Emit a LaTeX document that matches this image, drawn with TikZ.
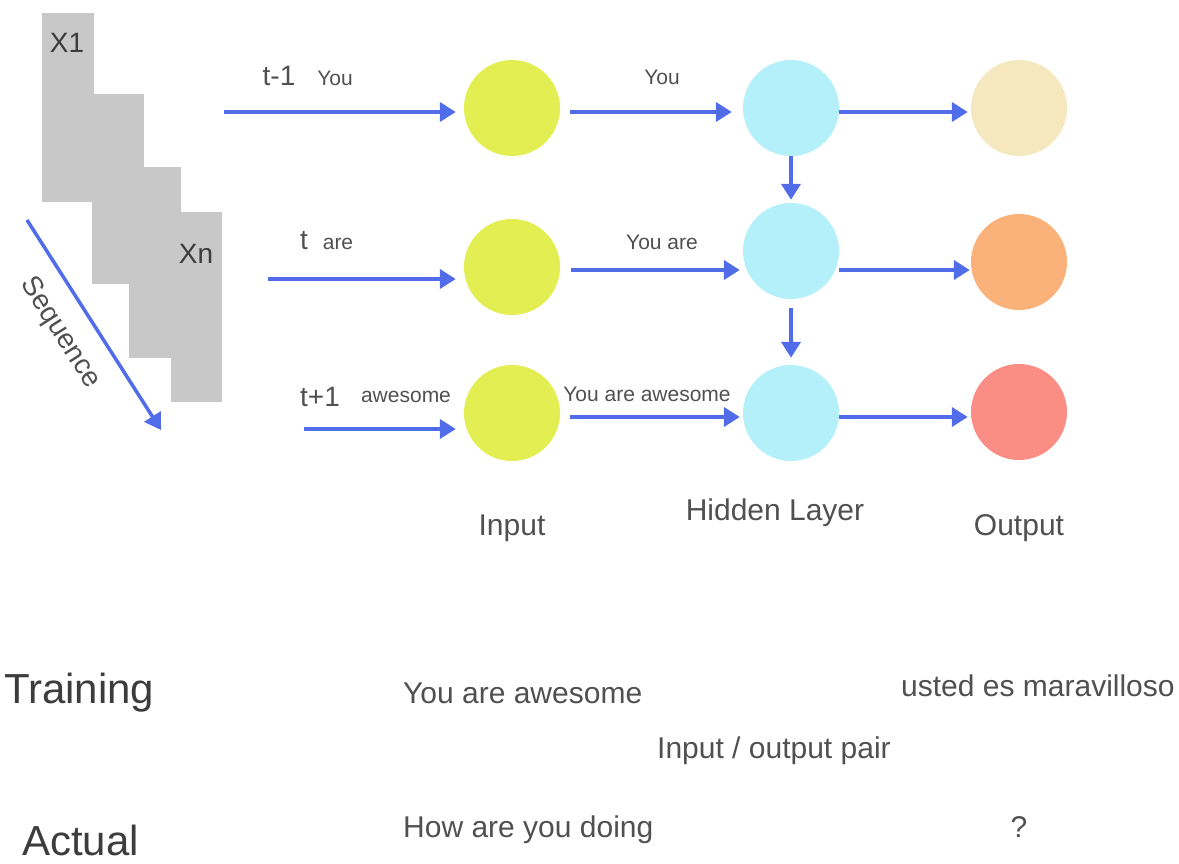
\documentclass[tikz,border=0pt]{standalone}
\usepackage{fontspec}
\setmainfont{Liberation Sans}
\usetikzlibrary{arrows.meta}

\definecolor{flowblue}{RGB}{80,108,232}
\definecolor{inyellow}{RGB}{226,238,82}
\definecolor{hidcyan}{RGB}{180,240,250}
\definecolor{outcream}{RGB}{245,232,190}
\definecolor{outorange}{RGB}{250,178,122}
\definecolor{outred}{RGB}{250,142,132}
\definecolor{seqgray}{RGB}{200,200,200}
\definecolor{txtgray}{RGB}{80,80,80}
\definecolor{txtdark}{RGB}{60,60,60}

\newcommand{\bigtxt}{\fontsize{42}{48}\selectfont}
\newcommand{\midtxt}{\fontsize{30}{36}\selectfont}
\newcommand{\steptxt}{\fontsize{28}{34}\selectfont}
\newcommand{\wordtxt}{\fontsize{21}{26}\selectfont}

\tikzset{
  neuron/.style={circle, minimum size=96pt, inner sep=0pt},
  flow/.style={line width=4.5pt, flowblue, -{Triangle[length=16pt,width=19pt]}},
  lbl/.style={anchor=base, inner sep=0pt, text=txtgray},
}

\begin{document}
\begin{tikzpicture}[x=1pt, y=-1pt]
  \useasboundingbox (0,0) rectangle (1179,864);

  % sequence of inputs
  \foreach \xa/\ya/\xb/\yb in {42/13/94/202, 92/94/144/284, 129/167/181/358, 171/212/222/402}
    \fill[seqgray] (\xa,\ya) rectangle (\xb,\yb);
  \node[lbl, font=\steptxt, text=txtdark] (x1) at (67,53) {X1};
  \node[lbl, font=\steptxt, text=txtdark] (xn) at (196,263) {Xn};
  \coordinate (seqa) at (27,220);
  \coordinate (seqb) at (161,430);
  \draw[flow, line width=3.5pt] (seqa) -- (seqb);
  \node[font=\steptxt, text=txtgray, rotate=-57.5, inner sep=0pt] (seq) at (60,333) {Sequence};

  % layers
  \node[neuron, fill=inyellow] (i1) at (512,108) {};
  \node[neuron, fill=inyellow] (i2) at (512,267) {};
  \node[neuron, fill=inyellow] (i3) at (512,413) {};
  \node[neuron, fill=hidcyan] (h1) at (791,108) {};
  \node[neuron, fill=hidcyan] (h2) at (791,251) {};
  \node[neuron, fill=hidcyan] (h3) at (791,413) {};
  \node[neuron, fill=outcream] (o1) at (1019,108) {};
  \node[neuron, fill=outorange] (o2) at (1019,262) {};
  \node[neuron, fill=outred] (o3) at (1019,412) {};

  % time steps into the input layer
  \coordinate (s1) at (224,112);
  \coordinate (s2) at (268,279);
  \coordinate (s3) at (304,429);
  \draw[flow, shorten >=8pt] (s1) -- (s1 -| i1.west);
  \draw[flow, shorten >=8pt] (s2) -- (s2 -| i2.west);
  \draw[flow, shorten >=8pt] (s3) -- (s3 -| i3.west);

  % input to hidden
  \draw[flow, shorten <=10pt, shorten >=11pt] ([yshift=-4pt]i1.east) -- ([yshift=-4pt]h1.west);
  \draw[flow, shorten <=11pt, shorten >=3pt] ([yshift=-3pt]i2.east) -- ([yshift=-19pt]h2.west);
  \draw[flow, shorten <=10pt, shorten >=3pt] ([yshift=-4pt]i3.east) -- ([yshift=-4pt]h3.west);

  % hidden to hidden
  \draw[flow, shorten >=3pt] (h1.south) -- (h2.north);
  \draw[flow, shorten <=9pt, shorten >=7pt] (h2.south) -- (h3.north);

  % hidden to output
  \draw[flow, shorten >=3pt] ([yshift=-4pt]h1.east) -- ([yshift=-4pt]o1.west);
  \draw[flow, shorten >=1pt] ([yshift=-19pt]h2.east) -- ([yshift=-8pt]o2.west);
  \draw[flow, shorten >=3pt] ([yshift=-4pt]h3.east) -- ([yshift=-5pt]o3.west);

  % labels
  \node[lbl, font=\steptxt] (t1) at (279,86) {t-1};
  \node[lbl, font=\wordtxt] (w1) at (335,86) {You};
  \node[lbl, font=\steptxt] (t2) at (304,250) {t};
  \node[lbl, font=\wordtxt] (w2) at (338,250) {are};
  \node[lbl, font=\steptxt] (t3) at (320,406) {t+1};
  \node[lbl, font=\wordtxt] (w3) at (406,402) {awesome};
  \node[lbl, font=\wordtxt] (p1) at (662,85) {You};
  \node[lbl, font=\wordtxt] (p2) at (662,249) {You are};
  \node[lbl, font=\wordtxt] (p3) at (647,401) {You are awesome};

  \node[lbl, font=\midtxt] (lin) at (512,535) {Input};
  \node[lbl, font=\midtxt] (lhid) at (775,520) {Hidden Layer};
  \node[lbl, font=\midtxt] (lout) at (1019,535) {Output};

  % translation example
  \node[lbl, anchor=base west, font=\bigtxt, text=txtdark] (train) at (4,703) {Training};
  \node[lbl, anchor=base west, font=\bigtxt, text=txtdark] (actual) at (22,855) {Actual};
  \node[lbl, anchor=base west, font=\midtxt] (src) at (403,703) {You are awesome};
  \node[lbl, anchor=base west, font=\midtxt] (tgt) at (901,696) {usted es maravilloso};
  \node[lbl, anchor=base west, font=\midtxt] (pair) at (657,758) {Input / output pair};
  \node[lbl, anchor=base west, font=\midtxt] (query) at (403,837) {How are you doing};
  \node[lbl, font=\midtxt] (qmark) at (1019,837) {?};
\end{tikzpicture}
\end{document}
